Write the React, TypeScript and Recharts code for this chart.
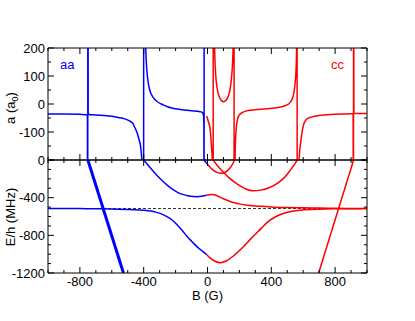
import React from 'react';
import { LineChart, Line, XAxis, YAxis, ReferenceLine, Label } from 'recharts';

const FONT = '"Liberation Sans", Arial, Helvetica, sans-serif';
const BLUE = '#0000ff';
const RED = '#ff0000';
const W = 415;
const TM = 2;

// ---- axes ----
const bTicks = [-1000, -900, -800, -700, -600, -500, -400, -300, -200, -100, 0, 100, 200, 300, 400, 500, 600, 700, 800, 900, 1000];
const bMajor = [-800, -400, 0, 400, 800];
const bLabels = [-800, -400, 0, 400, 800];
const aTicks = [-200, -150, -100, -50, 0, 50, 100, 150, 200];
const aMajor = [-200, -100, 0, 100, 200];
const aLabels = [-100, 0, 100, 200];
const eTicks = [0, -100, -200, -300, -400, -500, -600, -700, -800, -900, -1000, -1100, -1200];
const eMajor = [0, -400, -800, -1200];
const eLabels = [0, -400, -800, -1200];
const threshold = -515;

// ---- scattering length a (a0) vs B (G) ----
const aaScat: [number, number][] = [
  [-1000, -36], [-900, -36], [-800, -37], [-760, -38], [-753, -42], [-751, -1000], [-750, 1000], [-748, -30],
  [-740, -38], [-700, -39], [-650, -41], [-600, -44], [-560, -48], [-520, -53], [-490, -60], [-470, -68],
  [-455, -85], [-440, -105], [-430, -125], [-420, -150], [-413, -190], [-408, -250], [-403, -400], [-400.5, -1000],
  [-400, 1000], [-395, 540], [-390, 258], [-387, 193], [-382, 135], [-377, 100], [-370, 70], [-362, 50],
  [-356, 39], [-345, 27], [-330, 16], [-314, 8], [-290, 0], [-270, -5], [-251, -10], [-220, -15],
  [-180, -19], [-147, -21], [-100, -24], [-60, -26], [-40, -28], [-30, -32], [-25, -40], [-22.5, -80],
  [-21.5, -1000], [-21, 1000],
];
const ccScat: [number, number][] = [
  [-5, -43], [0, -52], [5, -62], [10, -72], [16, -88], [21, -120], [26, -160], [31, -210], [34, -320],
  [35.5, -1000], [36, 1000], [39, 450], [42, 280], [46, 170], [52, 100], [60, 58], [70, 32], [80, 18],
  [90, 11], [100, 8], [110, 10], [120, 16], [130, 28], [140, 48], [148, 80], [155, 125], [160, 190],
  [164, 320], [166.5, 1000], [167, -1000], [170, -350], [174, -160], [180, -90], [188, -55], [198, -40],
  [220, -30], [272, -22], [376, -17], [430, -13], [470, -9], [495, -4], [510, 1], [523, 9], [535, 25],
  [543, 45], [550, 80], [555, 120], [558, 180], [560, 300], [561.5, 1000], [562.5, -1000], [566, -400],
  [570, -260], [575, -190], [580, -155], [586, -129], [596, -90], [606, -68], [620, -55], [648, -47],
  [700, -41], [795, -37], [899, -35], [913, -35], [915, -1000], [916, 1000], [918, -34], [1000, -34],
];

// ---- energies E/h (MHz) vs B (G) ----
const aaLow: [number, number][] = [
  [-1000, -515], [-900, -515], [-800, -516], [-700, -518], [-600, -521], [-500, -525], [-460, -527],
  [-400, -533], [-356, -542], [-320, -556], [-290, -572], [-251, -604], [-220, -640], [-188, -693],
  [-160, -745], [-125, -818], [-95, -870], [-63, -925], [-30, -970], [-5, -1005],
];
const ccLow: [number, number][] = [
  [-5, -1005], [20, -1045], [50, -1078], [84, -1090], [120, -1070], [167, -1013], [220, -930],
  [272, -835], [335, -729], [376, -660], [430, -600], [481, -565], [530, -545], [586, -533],
  [700, -523], [795, -519], [900, -517], [1000, -516],
];
const aaUp: [number, number][] = [
  [-400, 0], [-370, -60], [-340, -120], [-310, -175], [-280, -225], [-251, -270], [-220, -310],
  [-188, -343], [-150, -368], [-125, -379], [-90, -388], [-63, -389], [-35, -384], [-5, -374],
];
const ccUp: [number, number][] = [
  [-5, -374], [10, -368], [31, -366], [50, -372], [75, -392], [100, -412], [146, -444], [200, -466],
  [251, -480], [335, -492], [400, -498], [500, -504], [600, -508], [700, -511], [800, -513], [1000, -515],
];
const aaShort: [number, number][] = [[-21, 0], [-10, -25], [3, -50]];
const ccU: [number, number][] = [
  [3, -50], [20, -85], [40, -112], [60, -132], [84, -142], [110, -130], [130, -105], [150, -65], [170, 0],
];
const ccArc: [number, number][] = [
  [35, 0], [60, -55], [100, -130], [136, -190], [167, -232], [200, -270], [240, -308], [282, -327],
  [335, -320], [390, -292], [440, -245], [480, -190], [510, -130], [535, -70], [550, -35], [562, 0],
];
const aaSteep: [number, number][] = [[-750, 0], [-527, -1200]];
const ccSteep: [number, number][] = [[916, 0], [697, -1200]];

const pts = (arr: [number, number][]) => arr.map(([B, v]) => ({ B, v }));

type Side = 'left' | 'right' | 'top' | 'bottom';
const txt = { fontSize: 13, fontFamily: FONT, fill: '#000' };

function makeTick(side: Side, majors: number[], labels: number[]) {
  return (props: any) => {
    const { x, y, payload } = props;
    const v = payload.value;
    const len = majors.includes(v) ? 6 : 3;
    const show = labels.includes(v);
    if (side === 'left') {
      const ax = x + TM;
      return (
        <g>
          <line x1={ax} x2={ax + len} y1={y} y2={y} stroke="#000" />
          {show && <text x={ax - 3} y={y + 4.5} textAnchor="end" {...txt}>{v}</text>}
        </g>
      );
    }
    if (side === 'right') {
      const ax = x - TM;
      return <line x1={ax} x2={ax - len} y1={y} y2={y} stroke="#000" />;
    }
    if (side === 'top') {
      const ay = y + TM;
      return <line x1={x} x2={x} y1={ay} y2={ay + len} stroke="#000" />;
    }
    const ay = y - TM;
    return (
      <g>
        <line x1={x} x2={x} y1={ay} y2={ay - len} stroke="#000" />
        {show && <text x={x} y={ay + 13} textAnchor="middle" {...txt}>{v}</text>}
      </g>
    );
  };
}

const xTitle = (props: any) => {
  const vb = props.viewBox || { x: 48, y: 0, width: 319, height: 30 };
  return (
    <text x={vb.x + vb.width / 2} y={vb.y + 27} textAnchor="middle" {...txt}>B (G)</text>
  );
};

const lineProps = {
  dot: false,
  isAnimationActive: false,
  type: 'monotone' as const,
  xAxisId: 'b',
  yAxisId: 'l',
  strokeWidth: 1.5,
  activeDot: false,
};

function axesFor(domainY: [number, number], yTicks: number[], yMajor: number[], yLabels: number[], bottomLabels: boolean, bottomH: number) {
  return [
    <XAxis key="xt" xAxisId="t" orientation="top" type="number" dataKey="B" domain={[-1000, 1000]} allowDataOverflow
      ticks={bTicks} interval={0} height={1} tickSize={0} tickMargin={TM} tickLine={false}
      axisLine={{ stroke: '#000' }} tick={makeTick('top', bMajor, [])} />,
    <XAxis key="xb" xAxisId="b" orientation="bottom" type="number" dataKey="B" domain={[-1000, 1000]} allowDataOverflow
      ticks={bTicks} interval={0} height={bottomH} tickSize={0} tickMargin={TM} tickLine={false}
      axisLine={{ stroke: '#000' }} tick={makeTick('bottom', bMajor, bottomLabels ? bLabels : [])}>
      {bottomLabels && <Label content={xTitle} />}
    </XAxis>,
    <YAxis key="yl" yAxisId="l" orientation="left" type="number" domain={domainY} allowDataOverflow
      ticks={yTicks} interval={0} width={48} tickSize={0} tickMargin={TM} tickLine={false}
      axisLine={{ stroke: '#000' }} tick={makeTick('left', yMajor, yLabels)} />,
    <YAxis key="yr" yAxisId="r" orientation="right" type="number" domain={domainY} allowDataOverflow
      ticks={yTicks} interval={0} width={1} tickSize={0} tickMargin={TM} tickLine={false}
      axisLine={{ stroke: '#000' }} tick={makeTick('right', yMajor, [])} />,
  ];
}

export default function App() {
  return (
    <div style={{ position: 'fixed', left: 0, top: 0, width: W, height: 321, background: '#fff' }}>
      <div style={{ position: 'absolute', left: 0, top: 150 }}>
        <LineChart width={W} height={171} margin={{ top: 9, right: 47, bottom: 18, left: 0 }}>
          {axesFor([-1200, 0], eTicks, eMajor, eLabels, true, 30)}
          <ReferenceLine xAxisId="b" yAxisId="l" y={threshold} stroke="#000" strokeWidth={0.8} strokeDasharray="3 2" />
          <Line {...lineProps} data={pts(aaLow)} dataKey="v" stroke={BLUE} />
          <Line {...lineProps} data={pts(ccLow)} dataKey="v" stroke={RED} />
          <Line {...lineProps} data={pts(aaUp)} dataKey="v" stroke={BLUE} />
          <Line {...lineProps} data={pts(ccUp)} dataKey="v" stroke={RED} />
          <Line {...lineProps} data={pts(aaShort)} dataKey="v" stroke={BLUE} />
          <Line {...lineProps} data={pts(ccU)} dataKey="v" stroke={RED} />
          <Line {...lineProps} data={pts(ccArc)} dataKey="v" stroke={RED} />
          <Line {...lineProps} type="linear" data={pts(aaSteep)} dataKey="v" stroke={BLUE} strokeWidth={3} />
          <Line {...lineProps} type="linear" data={pts(ccSteep)} dataKey="v" stroke={RED} />
          <text transform="rotate(-90 14.5 67)" x={14.5} y={67} textAnchor="middle" {...txt}>E/h (MHz)</text>
        </LineChart>
      </div>
      <div style={{ position: 'absolute', left: 0, top: 0 }}>
        <LineChart width={W} height={166} margin={{ top: 47, right: 47, bottom: 5, left: 0 }}>
          {axesFor([-200, 200], aTicks, aMajor, aLabels, false, 1)}
          <Line {...lineProps} data={pts(aaScat)} dataKey="v" stroke={BLUE} />
          <Line {...lineProps} data={pts(ccScat)} dataKey="v" stroke={RED} />
          <text transform="rotate(-90 14.5 108)" x={14.5} y={108} textAnchor="middle" {...txt}>
            <tspan>a (a</tspan>
            <tspan dy={3} fontSize={9}>0</tspan>
            <tspan dy={-3}>)</tspan>
          </text>
          <text x={60} y={68.5} {...txt} fill={BLUE}>aa</text>
          <text x={331} y={69} {...txt} fill={RED}>cc</text>
        </LineChart>
      </div>
    </div>
  );
}
